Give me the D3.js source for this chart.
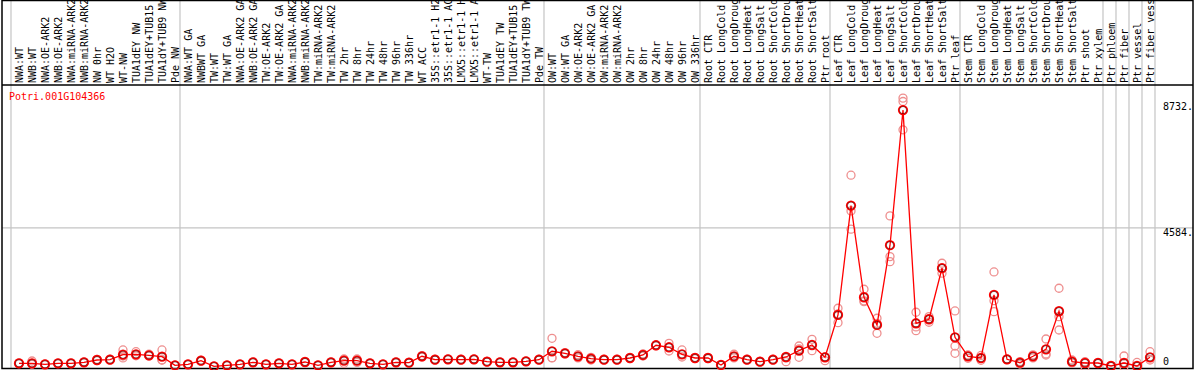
<!DOCTYPE html>
<html>
<head>
<meta charset="utf-8">
<script src="https://cdn.jsdelivr.net/npm/d3@7"></script>
<style>
body { margin: 0; background: #fff; }
svg { display: block; }
text { font-family: "DejaVu Sans Mono", monospace; font-size: 10px; }
</style>
</head>
<body>
<svg width="1194" height="370"></svg>
<script>
// sample names, one column each
var categories = [
  "NWA:WT", "NWB:WT", "NWA:OE-ARK2", "NWB:OE-ARK2", "NWA:miRNA-ARK2", "NWB:miRNA-ARK2", "NW 0hr", "WT H2O", "WT-NW",
  "TUA1dEY NW", "TUA1dEY+TUB15", "TUA1dY+TUB9 NW", "Pde NW",
  "NWA:WT GA", "NWBWT GA", "TW:WT", "TW:WT GA", "NWA:OE-ARK2 GA", "NWB:OE-ARK2 GA", "TW:OE-ARK2", "TW:OE-ARK2 GA",
  "NWA:miRNA-ARK2", "NWB:miRNA-ARK2", "TW:miRNA-ARK2", "TW:miRNA-ARK2", "TW 2hr", "TW 8hr", "TW 24hr", "TW 48hr",
  "TW 96hr", "TW 336hr", "WT ACC", "35S::etr1-1 H2O", "35S::etr1-1 ACC", "LMX5::etr1-1 H2O", "LMX5::etr1-1 ACC",
  "WT-TW", "TUA1dEY TW", "TUA1dEY+TUB15", "TUA1dY+TUB9 TW", "Pde TW",
  "OW:WT", "OW:WT GA", "OW:OE-ARK2", "OW:OE-ARK2 GA", "OW:miRNA-ARK2", "OW:miRNA-ARK2", "OW 2hr", "OW 8hr",
  "OW 24hr", "OW 48hr", "OW 96hr", "OW 336hr",
  "Root CTR", "Root LongCold", "Root LongDrought", "Root LongHeat", "Root LongSalt", "Root ShortCold",
  "Root ShortDrought", "Root ShortHeat", "Root ShortSalt", "Ptr root",
  "Leaf CTR", "Leaf LongCold", "Leaf LongDrought", "Leaf LongHeat", "Leaf LongSalt", "Leaf ShortCold",
  "Leaf ShortDrought", "Leaf ShortHeat", "Leaf ShortSalt", "Ptr leaf",
  "Stem CTR", "Stem LongCold", "Stem LongDrought", "Stem LongHeat", "Stem LongSalt", "Stem ShortCold",
  "Stem ShortDrought", "Stem ShortHeat", "Stem ShortSalt", "Ptr shoot", "Ptr xylem",
  "Ptr phloem", "Ptr fiber", "Ptr vessel", "Ptr fiber vessel"
];

// number of columns in each block between the grey separators
var groupSizes = [13, 28, 12, 10, 10, 11, 1, 1, 1, 1];

// mean expression per sample
var means = [
  122, 122, 89, 122, 122, 155, 231, 241, 406, 419, 386, 340, 56,
  89, 208, 23, 56, 89, 155, 89, 122, 89, 165, 56, 155, 208, 208, 122, 89, 155, 142, 353, 241, 254, 241, 254,
  175, 155, 155, 188, 241,
  518, 452, 353, 274, 241, 241, 297, 396, 716, 650, 419, 297,
  297, 66, 353, 241, 175, 241, 330, 538, 725, 320,
  1715, 5319, 2298, 1385, 4013, 8465, 1441, 1573, 3255, 979,
  353, 297, 2374, 254, 142, 353, 584, 1837, 175, 132, 132,
  33, 132, 33, 320
];

// individual replicates per sample
var reps = [
  [110, 135], [198, 122, 90], [80, 100], [115, 130], [110, 135], [140, 170], [215, 250], [230, 255],
  [561, 363, 300], [505, 386, 370], [420, 360], [561, 231, 230], [50, 62],
  [80, 98], [190, 225], [20, 28], [50, 62], [80, 98], [145, 165], [80, 98], [110, 135], [80, 98], [150, 180],
  [50, 62], [140, 170], [264, 122, 240], [264, 150, 210], [110, 135], [80, 98], [140, 170], [130, 155],
  [330, 375], [230, 255], [240, 265], [230, 255], [240, 265], [165, 185], [145, 165], [145, 165], [175, 200],
  [230, 255],
  [946, 307, 300], [430, 475], [405, 300], [320, 230], [230, 255], [230, 255], [280, 310], [430, 360],
  [700, 730], [781, 528, 640], [561, 330], [280, 310],
  [280, 310], [60, 72], [420, 300], [230, 255], [165, 185], [230, 255], [300, 175], [692, 320, 600],
  [913, 538], [340, 208],
  [1936, 1461, 1750], [6321, 5144, 4540], [2562, 2153, 2180], [1606, 1111, 1440], [4979, 3637, 3472],
  [8860, 8749, 7815], [1804, 1197, 1320], [1659, 1474, 1590], [3419, 3090, 3260], [1847, 692, 452],
  [396, 287, 380], [287, 220, 380], [3133, 2186, 1824], [240, 265], [99, 180], [400, 300], [923, 396, 430],
  [2595, 1659, 1220], [230, 130], [175, 10], [140, 120],
  [20, 45], [363, 10], [150, 20], [505, 231]
];

var yTicks = [0, 4584, 8732];
var yTickLabels = ["0", "4584.", "8732."];
var geneId = "Potri.001G104366";

function main() {
  var svg = d3.select('svg'),
    width = +svg.attr('width'),
    height = +svg.attr('height');

  var x = d3.scaleBand()
    .domain(d3.range(categories.length))
    .range([11, 11 + 13 * categories.length])
    .padding(0);
  var cx = function(i) { return x(i) + 8; };

  var y = d3.scaleLinear()
    .domain([0, 8732])
    .range([367, 102]);

  // grey separators between blocks
  var bounds = [0];
  groupSizes.forEach(function(n) { bounds.push(bounds[bounds.length - 1] + n); });
  svg.append('g').selectAll('line')
    .data(bounds)
    .enter().append('line')
    .attr('x1', function(b) { return b < categories.length ? x(b) : x(b - 1) + x.bandwidth(); })
    .attr('x2', function(b) { return b < categories.length ? x(b) : x(b - 1) + x.bandwidth(); })
    .attr('y1', 0)
    .attr('y2', 368)
    .attr('stroke', '#c4c4c4')
    .attr('stroke-width', 1.2);

  // mid gridline
  svg.append('line')
    .attr('x1', 2).attr('x2', 1193)
    .attr('y1', y(yTicks[1])).attr('y2', y(yTicks[1]))
    .attr('stroke', '#c4c4c4')
    .attr('stroke-width', 1.2);

  // frame
  svg.append('rect')
    .attr('x', 2).attr('y', 0.5)
    .attr('width', 1191).attr('height', 368)
    .attr('fill', 'none')
    .attr('stroke', '#000')
    .attr('stroke-width', 1.5);
  svg.append('line')
    .attr('x1', 2).attr('x2', 1193)
    .attr('y1', 85).attr('y2', 85)
    .attr('stroke', '#000')
    .attr('stroke-width', 1.3);

  // sample labels, vertical
  svg.append('g').selectAll('text')
    .data(categories)
    .enter().append('text')
    .attr('transform', function(d, i) { return 'translate(' + (x(i) + 12) + ',83) rotate(-90)'; })
    .attr('fill', '#000')
    .text(function(d) { return d; });

  // value labels on the right
  svg.append('g').selectAll('text')
    .data(yTicks)
    .enter().append('text')
    .attr('x', 1163)
    .attr('y', function(d) { return Math.min(y(d) + 5, 362); })
    .attr('dominant-baseline', 'middle')
    .attr('fill', '#000')
    .text(function(d, i) { return yTickLabels[i]; });

  svg.append('text')
    .attr('x', 9)
    .attr('y', 97)
    .attr('dominant-baseline', 'middle')
    .attr('fill', '#ff0000')
    .text(geneId);

  // replicate circles
  var repPts = [];
  reps.forEach(function(r, i) { r.forEach(function(v) { repPts.push({ i: i, v: v }); }); });
  svg.append('g').selectAll('circle')
    .data(repPts)
    .enter().append('circle')
    .attr('cx', function(d) { return cx(d.i); })
    .attr('cy', function(d) { return y(d.v); })
    .attr('r', 4)
    .attr('fill', 'none')
    .attr('stroke', '#ee8f8f')
    .attr('stroke-width', 1.3);

  // mean line
  var line = d3.line()
    .x(function(d, i) { return cx(i); })
    .y(function(d) { return y(d); });
  svg.append('path')
    .datum(means)
    .attr('d', line)
    .attr('fill', 'none')
    .attr('stroke', '#ff0000')
    .attr('stroke-width', 1.3);

  var m = svg.append('g').selectAll('g')
    .data(means)
    .enter().append('g')
    .attr('transform', function(d, i) { return 'translate(' + cx(i) + ',' + y(d) + ')'; });
  m.append('circle')
    .attr('r', 4.3)
    .attr('fill', 'none')
    .attr('stroke', '#ff0000')
    .attr('stroke-width', 1.7);
  m.append('circle')
    .attr('r', 3.6)
    .attr('fill', 'none')
    .attr('stroke', '#000')
    .attr('stroke-width', 0.6)
    .attr('opacity', 0.7);
}
main();
</script>
</body>
</html>
